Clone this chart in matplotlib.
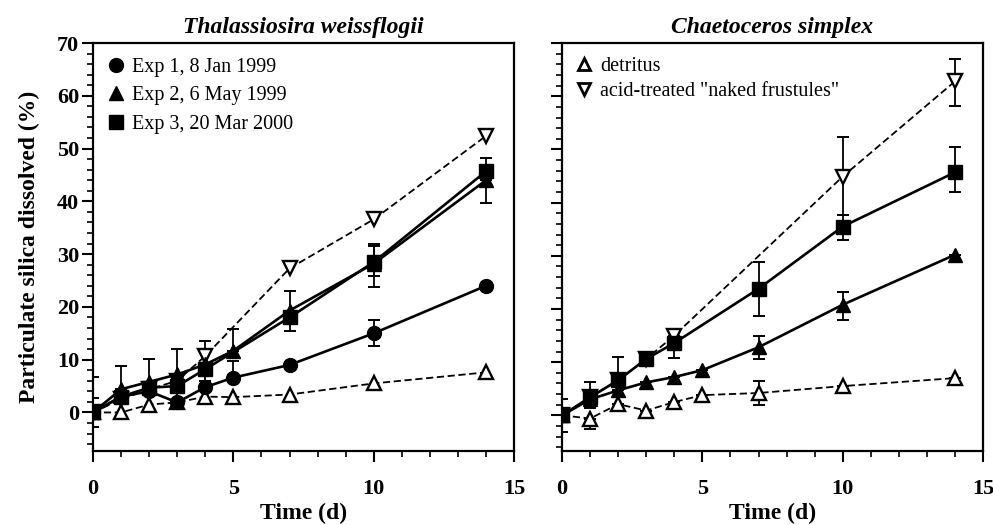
import matplotlib
matplotlib.use('Agg')
import matplotlib.pyplot as plt
from matplotlib.lines import Line2D
from matplotlib.ticker import MultipleLocator

plt.rcParams['font.family'] = ['Liberation Serif', 'DejaVu Serif']

# ---------------- Thalassiosira weissflogii (left) ----------------
tw_exp1_t = [0, 1, 2, 3, 4, 5, 7, 10, 14]
tw_exp1_y = [0, 3.0, 4.0, 1.9, 4.8, 6.6, 9.0, 15.0, 24.0]
tw_exp1_lo = [0, 0, 0, 0, 0, 0, 0, 2.4, 0]
tw_exp1_hi = [6.8, 0, 0, 0, 1.1, 3.1, 0, 2.5, 0]

tw_exp2_t = [0, 1, 2, 3, 4, 5, 7, 10, 14]
tw_exp2_y = [0, 4.4, 5.8, 7.2, 9.1, 11.7, 19.3, 28.2, 44.0]
tw_exp2_lo = [2.8, 0, 0, 0, 0, 0, 3.9, 4.5, 4.3]
tw_exp2_hi = [2.8, 4.4, 4.3, 4.8, 4.4, 4.1, 3.8, 3.7, 0]

tw_exp3_t = [0, 1, 2, 3, 4, 7, 10, 14]
tw_exp3_y = [0, 3.0, 4.7, 5.0, 8.2, 18.0, 28.5, 45.7]
tw_exp3_lo = [0, 0, 0, 0, 2.3, 0, 2.7, 0]
tw_exp3_hi = [0, 0, 0, 0, 0, 0, 3.0, 2.5]

tw_det_t = [0, 1, 2, 3, 4, 5, 7, 10, 14]
tw_det_y = [0, 0, 1.5, 1.9, 3.0, 2.9, 3.4, 5.5, 7.6]

tw_nak_t = [0, 1, 2, 3, 4, 7, 10, 14]
tw_nak_y = [0, 2.5, 4.4, 6.0, 10.7, 27.3, 36.6, 52.4]

# ---------------- Chaetoceros simplex (right) ----------------
cs_exp2_t = [0, 1, 2, 3, 4, 5, 7, 10, 14]
cs_exp2_y = [0, 3.0, 4.7, 6.2, 7.2, 8.5, 12.8, 20.8, 30.2]
cs_exp2_lo = [0, 0, 0, 0, 0, 0, 2.2, 2.9, 0]
cs_exp2_hi = [0, 0, 0, 0, 0, 0, 2.2, 2.4, 0]

cs_exp3_t = [0, 1, 2, 3, 4, 7, 10, 14]
cs_exp3_y = [0, 3.4, 6.6, 10.6, 13.6, 23.8, 35.5, 45.7]
cs_exp3_lo = [3.1, 2.1, 0, 0, 2.8, 5.1, 2.5, 3.8]
cs_exp3_hi = [3.1, 2.8, 4.3, 0, 1.9, 5.1, 2.2, 4.7]

cs_det_t = [0, 1, 2, 3, 4, 5, 7, 10, 14]
cs_det_y = [0, -0.6, 2.1, 0.9, 2.5, 3.8, 4.2, 5.5, 7.0]
cs_det_lo = [0, 1.9, 0, 0, 0, 0, 2.3, 0, 0]
cs_det_hi = [0, 0, 0, 0, 0, 0, 2.2, 0, 0]

cs_nak_t = [0, 1, 2, 3, 4, 10, 14]
cs_nak_y = [0, 3.4, 6.6, 10.6, 15.0, 44.9, 62.8]
cs_nak_lo = [0, 0, 0, 0, 0, 7.2, 4.7]
cs_nak_hi = [0, 0, 0, 0, 0, 7.4, 4.2]

ERR = dict(fmt='none', ecolor='black', elinewidth=1.3, capsize=4.5, capthick=1.4, zorder=2)
SOLID = dict(color='black', lw=1.9, ms=10, zorder=4)
DASH = dict(color='black', lw=1.3, ls=(0, (4, 2)), ms=9.5, mfc='white', mec='black', mew=1.7, zorder=3)

fig = plt.figure(figsize=(9.93, 5.25), dpi=100)
ax1 = fig.add_axes([0.0937, 0.141, 0.424, 0.777])
ax2 = fig.add_axes([0.566, 0.141, 0.424, 0.777])

# left panel
ax1.plot(tw_det_t, tw_det_y, marker='^', **DASH)
ax1.plot(tw_nak_t, tw_nak_y, marker='v', **DASH)
ax1.errorbar(tw_exp1_t, tw_exp1_y, yerr=[tw_exp1_lo, tw_exp1_hi], **ERR)
ax1.errorbar(tw_exp2_t, tw_exp2_y, yerr=[tw_exp2_lo, tw_exp2_hi], **ERR)
ax1.errorbar(tw_exp3_t, tw_exp3_y, yerr=[tw_exp3_lo, tw_exp3_hi], **ERR)
ax1.plot(tw_exp1_t, tw_exp1_y, marker='o', **SOLID)
ax1.plot(tw_exp2_t, tw_exp2_y, marker='^', **SOLID)
ax1.plot(tw_exp3_t, tw_exp3_y, marker='s', **SOLID)

# right panel
ax2.errorbar(cs_det_t, cs_det_y, yerr=[cs_det_lo, cs_det_hi], **ERR)
ax2.errorbar(cs_nak_t, cs_nak_y, yerr=[cs_nak_lo, cs_nak_hi], **ERR)
ax2.errorbar(cs_exp2_t, cs_exp2_y, yerr=[cs_exp2_lo, cs_exp2_hi], **ERR)
ax2.errorbar(cs_exp3_t, cs_exp3_y, yerr=[cs_exp3_lo, cs_exp3_hi], **ERR)
ax2.plot(cs_det_t, cs_det_y, marker='^', **DASH)
ax2.plot(cs_nak_t, cs_nak_y, marker='v', **DASH)
ax2.plot(cs_exp2_t, cs_exp2_y, marker='^', **SOLID)
ax2.plot(cs_exp3_t, cs_exp3_y, marker='s', **SOLID)

for ax, ymin in ((ax1, -7.3), (ax2, -6.7)):
    ax.set_xlim(0, 15)
    ax.set_ylim(ymin, 70)
    ax.xaxis.set_major_locator(MultipleLocator(5))
    ax.xaxis.set_minor_locator(MultipleLocator(1))
    ax.yaxis.set_major_locator(MultipleLocator(10))
    ax.yaxis.set_minor_locator(MultipleLocator(2))
    ax.tick_params(which='major', direction='out', length=8, width=1.5)
    ax.tick_params(which='minor', direction='out', length=4.5, width=1.2)
    ax.tick_params(labelsize=16)
    ax.tick_params(axis='x', which='major', pad=12)
    ax.tick_params(axis='y', which='major', pad=2)
    for s in ax.spines.values():
        s.set_linewidth(1.6)
    for lab in ax.get_xticklabels() + ax.get_yticklabels():
        lab.set_fontweight('bold')
    ax.set_xlabel('Time (d)', fontsize=17, fontweight='bold', labelpad=3)

ax2.set_yticklabels([])
ax1.set_ylabel('Particulate silica dissolved (%)', fontsize=17, fontweight='bold', labelpad=12)
ax1.set_title('Thalassiosira weissflogii', fontsize=17, fontweight='bold', style='italic', pad=7)
ax2.set_title('Chaetoceros simplex', fontsize=17, fontweight='bold', style='italic', pad=7)

h1 = [Line2D([], [], ls='none', marker='o', color='black', ms=10),
      Line2D([], [], ls='none', marker='^', color='black', ms=10),
      Line2D([], [], ls='none', marker='s', color='black', ms=10)]
ax1.legend(h1, ['Exp 1, 8 Jan 1999', 'Exp 2, 6 May 1999', 'Exp 3, 20 Mar 2000'],
           loc='upper left', frameon=False, fontsize=14.5, handlelength=0.8,
           handletextpad=0.4, labelspacing=0.45, borderaxespad=0.35)

h2 = [Line2D([], [], ls='none', marker='^', color='black', mfc='white', mew=2, ms=9),
      Line2D([], [], ls='none', marker='v', color='black', mfc='white', mew=2, ms=9)]
ax2.legend(h2, ['detritus', 'acid-treated "naked frustules"'],
           loc='upper left', frameon=False, fontsize=14.5, handlelength=0.8,
           handletextpad=0.4, labelspacing=0.3, borderaxespad=0.5, borderpad=0.2)

fig.savefig('out.png', dpi=100)
